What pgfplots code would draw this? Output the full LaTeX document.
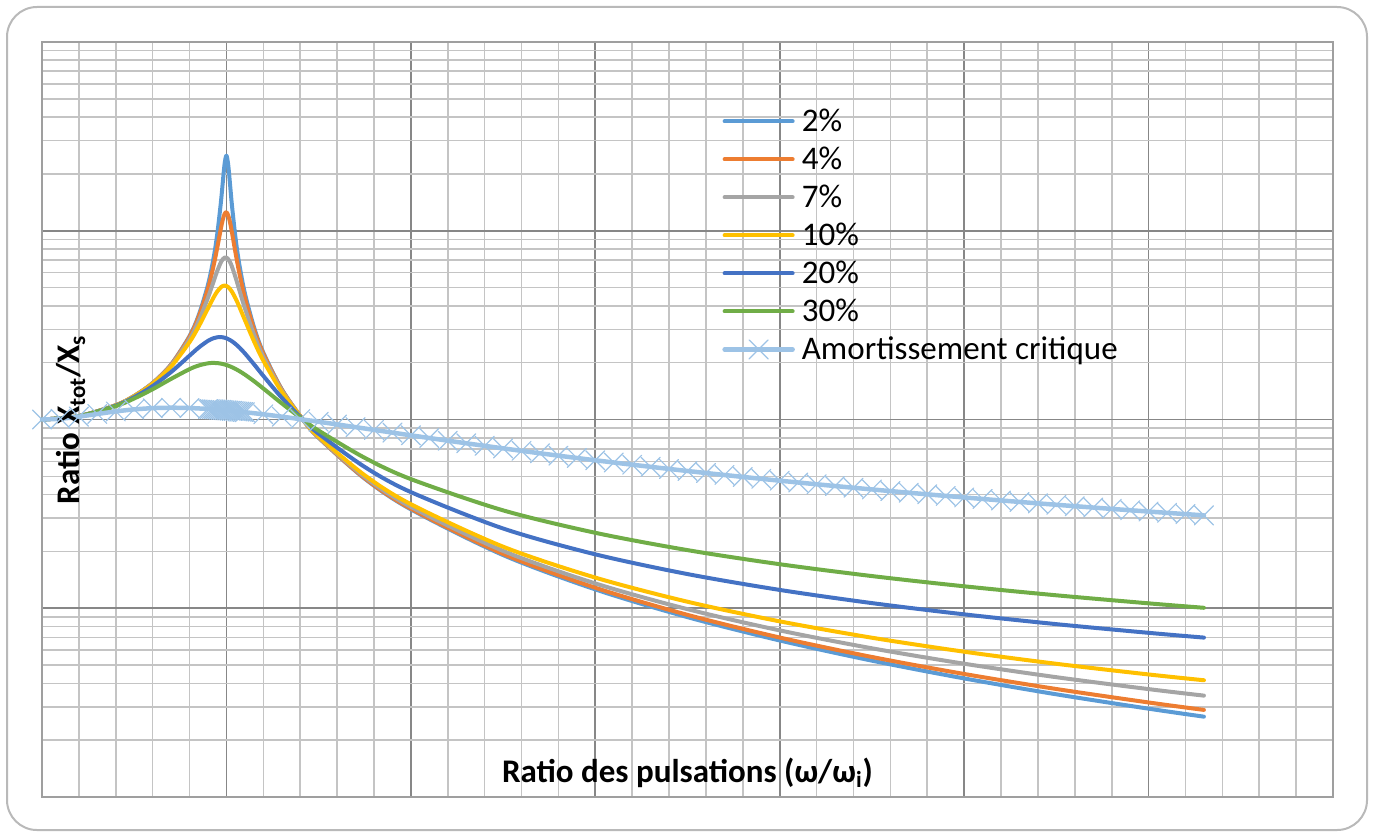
\documentclass[border=0pt]{standalone}
\usepackage{fontspec}
\setmainfont{Carlito}
\usepackage{pgfplots}
\usepackage{pgfplotstable}
\pgfplotsset{compat=1.18}
\usetikzlibrary{calc}
\definecolor{c1}{HTML}{5B9BD5}
\definecolor{c2}{HTML}{ED7D31}
\definecolor{c3}{HTML}{A5A5A5}
\definecolor{c4}{HTML}{FFC000}
\definecolor{c5}{HTML}{4472C4}
\definecolor{c6}{HTML}{70AD47}
\definecolor{c7}{HTML}{9DC3E6}
\definecolor{majgrid}{HTML}{878787}
\definecolor{mingrid}{HTML}{C4C4C4}

\pgfplotstableread{
r z02 z04 z07 z10 z20 z30
0 1 1 1 1 1 1
0.2 1.0417 1.0417 1.0416 1.0416 1.0414 1.0410
0.4 1.1904 1.1902 1.1897 1.1889 1.1843 1.1772
0.5 1.3331 1.3325 1.3308 1.3282 1.3138 1.2925
0.6 1.5618 1.5599 1.5547 1.5468 1.5046 1.4474
0.7 1.9586 1.9521 1.9348 1.9093 1.7849 1.6417
0.8 2.7683 2.7405 2.6690 2.5707 2.1798 1.8487
0.85 3.5789 3.5081 3.3352 3.1169 2.4067 1.9334
0.9 5.1746 4.9344 4.4210 3.8822 2.6110 1.9853
0.93 7.1412 6.5016 5.3747 4.4246 2.6959 1.9946
0.95 9.5633 8.1127 6.1172 4.7664 2.7269 1.9905
0.97 14.155 10.283 6.8140 5.0228 2.7330 1.9778
0.98 17.961 11.420 7.0684 5.0962 2.7262 1.9684
0.99 22.581 12.284 7.2100 5.1228 2.7126 1.9570
1.00 25.020 12.540 7.2125 5.0990 2.6926 1.9437
1.01 22.179 12.049 7.0714 5.0257 2.6663 1.9285
1.02 17.431 11.019 6.8067 4.9076 2.6343 1.9115
1.03 13.612 9.7926 6.4544 4.7530 2.5969 1.8930
1.05 9.0357 7.5725 5.6401 4.3727 2.5088 1.8517
1.07 6.6247 5.9636 4.8517 3.9570 2.4072 1.8056
1.1 4.6652 4.4089 3.8853 3.3666 2.2409 1.7299
1.15 3.0729 2.9944 2.8100 2.5904 1.9593 1.5952
1.2 2.2619 2.2307 2.1530 2.0519 1.7035 1.4603
1.3 1.4471 1.4408 1.4244 1.4013 1.3045 1.2178
1.4142 1 1 1 1 1 1
1.5 0.80052 0.80205 0.80615 0.81216 0.84108 0.87345
1.75 0.48576 0.48845 0.49570 0.50645 0.56044 0.62651
2 0.33428 0.33709 0.34466 0.35586 0.41246 0.48344
2.5 0.19139 0.19411 0.20136 0.21200 0.26462 0.33017
3 0.12588 0.12849 0.13539 0.14537 0.19310 0.25111
3.5 0.089749 0.092279 0.098892 0.10829 0.15176 0.20324
4 0.067511 0.069981 0.076355 0.085254 0.12508 0.17116
4.5 0.052781 0.055202 0.061364 0.069813 0.10650 0.14812
5 0.042491 0.044870 0.050839 0.058874 0.092848 0.13074
5.5 0.035005 0.037347 0.043134 0.050789 0.082386 0.11714
6 0.029382 0.031690 0.037303 0.044604 0.074112 0.10619
6.3 0.026654 0.028941 0.034455 0.041555 0.069926 0.10058
}\damped

\pgfplotstableread{
r t
0 1
0.1 1.00971
0.2 1.03561
0.3 1.06990
0.4 1.10398
0.5 1.13137
0.6 1.14857
0.7 1.15468
0.8 1.15049
0.9 1.13764
0.91 1.13595
0.92 1.13420
0.93 1.13238
0.94 1.13048
0.95 1.12857
0.96 1.12657
0.97 1.12452
0.98 1.12240
0.99 1.12024
1.00 1.11803
1.01 1.11578
1.02 1.11347
1.03 1.11111
1.04 1.10872
1.05 1.10627
1.06 1.10379
1.07 1.10127
1.08 1.09871
1.09 1.09612
1.1 1.09349
1.2 1.06557
1.3 1.03557
1.4 1.00446
1.5 0.97301
1.6 0.94175
1.7 0.91106
1.8 0.88121
1.9 0.85236
2.0 0.82462
2.1 0.79804
2.2 0.77264
2.3 0.74840
2.4 0.72530
2.5 0.70331
2.6 0.68238
2.7 0.66246
2.8 0.64350
2.9 0.62546
3.0 0.60828
3.1 0.59191
3.2 0.57630
3.3 0.56142
3.4 0.54722
3.5 0.53367
3.6 0.52071
3.7 0.50832
3.8 0.49647
3.9 0.48512
4.0 0.47425
4.1 0.46383
4.2 0.45382
4.3 0.44422
4.4 0.43500
4.5 0.42614
4.6 0.41761
4.7 0.40940
4.8 0.40149
4.9 0.39388
5.0 0.38653
5.1 0.37945
5.2 0.37261
5.3 0.36600
5.4 0.35962
5.5 0.35345
5.6 0.34748
5.7 0.34171
5.8 0.33611
5.9 0.33070
6.0 0.32545
6.1 0.32036
6.2 0.31542
6.3 0.31063
}\crit

\begin{document}
\begin{tikzpicture}
\begin{axis}[
  scale only axis, width=645.5pt, height=377.5pt,
  xmin=0, xmax=7, ymode=log, ymin=0.01, ymax=100,
  xtick={0,1,2,3,4,5,6,7}, minor x tick num=4,
  ytick={0.01,0.1,1,10,100},
  grid=both,
  major grid style={draw=majgrid, line width=0.8pt},
  minor grid style={draw=mingrid, line width=0.8pt},
  major tick length=0pt, minor tick length=0pt,
  xticklabels={}, yticklabels={},
  axis line style={draw=majgrid!80, line width=0.8pt},
  clip=false,
  every axis plot/.append style={line width=2pt, line join=round, line cap=round},
  legend style={draw=none, fill=none, at={(axis description cs:0.5267,0.9139)}, anchor=north west,
    inner sep=0pt, row sep=5pt, column sep=3.5pt, font=\fontsize{16.5}{19}\selectfont,
    nodes={inner sep=0pt, text height=12pt, text depth=2pt}},
  legend cell align=left,
  legend image code/.code={\draw[mark repeat=2, mark phase=2, #1] plot coordinates {(0pt,0pt) (17pt,0pt) (34pt,0pt)};},
]
\addplot[c1, no markers, smooth, tension=0.5] table[x=r, y=z02] {\damped};
\addlegendentry{2\%}
\addplot[c2, no markers, smooth, tension=0.5] table[x=r, y=z04] {\damped};
\addlegendentry{4\%}
\addplot[c3, no markers, smooth, tension=0.5] table[x=r, y=z07] {\damped};
\addlegendentry{7\%}
\addplot[c4, no markers, smooth, tension=0.5] table[x=r, y=z10] {\damped};
\addlegendentry{10\%}
\addplot[c5, no markers, smooth, tension=0.5] table[x=r, y=z20] {\damped};
\addlegendentry{20\%}
\addplot[c6, no markers, smooth, tension=0.5] table[x=r, y=z30] {\damped};
\addlegendentry{30\%}
\addplot[c7, line width=2.25pt, smooth, tension=0.5, mark=x, mark size=6.7pt, mark options={line width=0.6pt, solid, draw=c7}] table[x=r, y=t] {\crit};
\addlegendentry{Amortissement critique}

\node[font=\bfseries\fontsize{16.5}{19}\selectfont, anchor=base] at (axis description cs:0.5,0.0199) {Ratio des pulsations (ω/ω\textsubscript{i})};
\node[font=\bfseries\fontsize{16.5}{19}\selectfont, rotate=90, anchor=base] at (axis description cs:0.0294,0.5) {Ratio X\textsubscript{tot}/X\textsubscript{s}};
\end{axis}
\draw[gray!55, line width=1pt, rounded corners=15pt] ($(current axis.south west)+(-17.5pt,-16.5pt)$) rectangle ($(current axis.north east)+(17pt,17.5pt)$);
\pgfresetboundingbox
\path[use as bounding box] ($(current axis.south west)+(-21pt,-17.5pt)$) rectangle ($(current axis.north east)+(24pt,21pt)$);
\end{tikzpicture}
\end{document}
